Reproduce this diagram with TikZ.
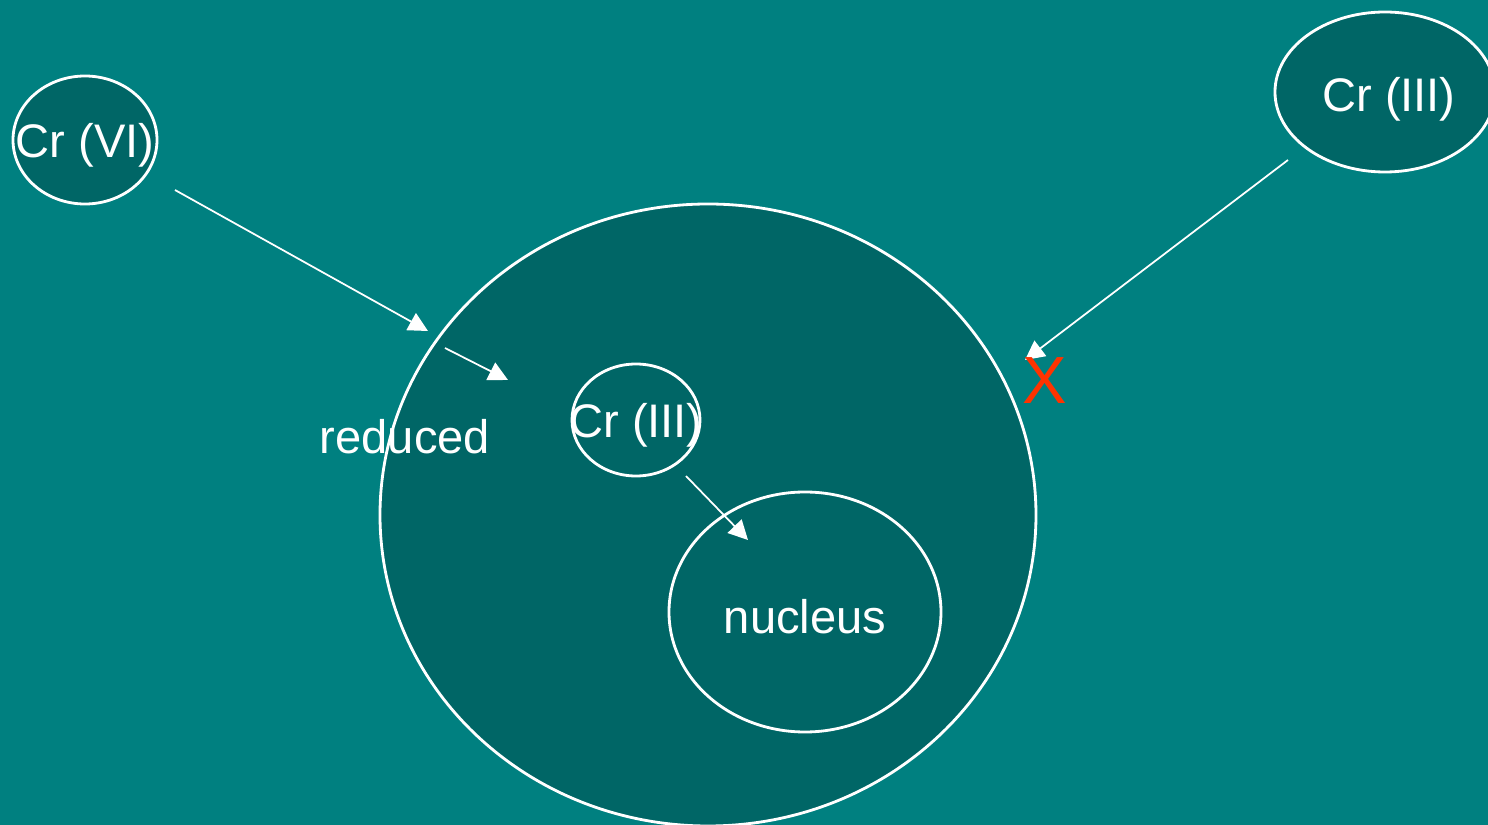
\documentclass[tikz,border=0pt]{standalone}
\usepackage{fontspec}
\setmainfont{Liberation Sans}
\usetikzlibrary{arrows.meta,shapes.geometric}
\definecolor{bg}{HTML}{008080}
\definecolor{cell}{HTML}{006666}
\definecolor{cross}{HTML}{FF3300}

\begin{document}
\begin{tikzpicture}[
  blob/.style={ellipse, draw=white, line width=0.8pt, fill=cell, inner sep=0pt},
  lbl/.style={text=white, font=\fontsize{13.4}{16}\selectfont},
  inlbl/.style={lbl, yshift=-0.05cm},
  flow/.style={-{Triangle[length=5.5pt,width=5.5pt]}, white, line width=0.5pt},
]
  \useasboundingbox (0,0) rectangle (14.88,8.25);
  \clip (0,0) rectangle (14.88,8.25);
  \fill[bg] (0,0) rectangle (14.88,8.25);

  \node[blob, minimum width=6.56cm, minimum height=6.22cm] (cell) at (7.08,3.10) {};
  \node[blob, minimum width=1.44cm, minimum height=1.28cm,
        label={[inlbl]center:Cr (VI)}] (vi) at (0.85,6.85) {};
  \node[blob, minimum width=2.20cm, minimum height=1.60cm,
        label={[inlbl, yshift=-0.02cm, xshift=0.04cm]center:Cr (III)}] (out) at (13.85,7.33) {};
  \node[blob, minimum width=1.28cm, minimum height=1.12cm,
        label={[inlbl]center:Cr (III)}] (in) at (6.36,4.05) {};
  \node[blob, minimum width=2.72cm, minimum height=2.40cm,
        label={[inlbl]center:nucleus}] (nuc) at (8.05,2.13) {};
  \node[lbl] (red) at (4.05,3.88) {reduced};

  % ends of the arrows
  \coordinate (a1s) at (1.75,6.35);
  \coordinate (a1e) at (4.28,4.94);
  \coordinate (a2s) at (4.45,4.77);
  \coordinate (a2e) at (5.08,4.45);
  \coordinate (a3s) at (6.86,3.49);
  \coordinate (a3e) at (7.48,2.85);
  \coordinate (a4s) at (12.88,6.65);
  \coordinate (a4e) at (10.25,4.65);

  \draw[flow] (a1s) -- (a1e);
  \draw[flow] (a2s) -- (a2e);
  \draw[flow] (a3s) -- (a3e);
  \draw[flow] (a4s) -- (a4e);

  % blocked entry
  \node[text=cross, font=\fontsize{19}{22}\selectfont] (x) at (10.45,4.44) {X};
\end{tikzpicture}
\end{document}
